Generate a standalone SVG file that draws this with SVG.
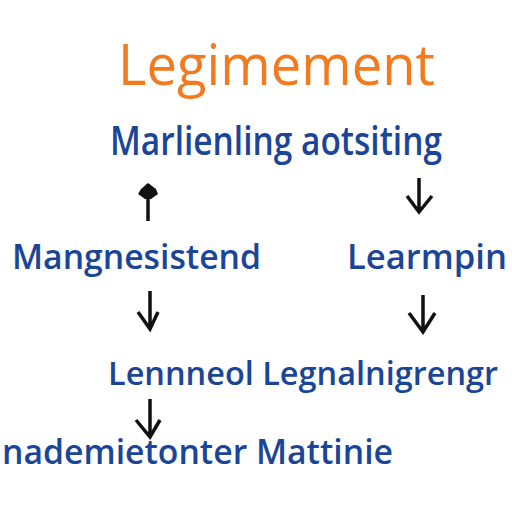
<svg xmlns="http://www.w3.org/2000/svg" width="512" height="512" viewBox="0 0 512 512">
<defs>
<style>
.t{font-family:"Open Sans","Noto Sans","Liberation Sans",sans-serif;fill:#1b4597;font-weight:600}
.title{font-family:"Open Sans","Noto Sans","Liberation Sans",sans-serif;fill:#f27a1f;font-weight:500}
.c{stroke:#111;stroke-width:3.5;fill:none;stroke-linecap:butt}
</style>
</defs>
<rect width="512" height="512" fill="#ffffff"/>
<g id="title"><text class="title" x="118" y="85" font-size="56" textLength="317" lengthAdjust="spacingAndGlyphs">Legimement</text></g>
<g id="node-top"><text class="t" x="110" y="155" font-size="39" textLength="332" lengthAdjust="spacingAndGlyphs">Marlienling aotsiting</text></g>
<g id="node-left"><text class="t" x="12" y="269" font-size="35" textLength="249" lengthAdjust="spacingAndGlyphs">Mangnesistend</text></g>
<g id="node-right"><text class="t" x="347" y="269" font-size="35" textLength="160" lengthAdjust="spacingAndGlyphs">Learmpin</text></g>
<g id="node-mid"><text class="t" x="108" y="385" font-size="33" textLength="390" lengthAdjust="spacingAndGlyphs">Lennneol Legnalnigrengr</text></g>
<g id="node-bottom"><text class="t" x="2" y="464" font-size="35" textLength="391" lengthAdjust="spacingAndGlyphs">nademietonter Mattinie</text></g>
<g id="connectors">
<path class="c" d="M148,221 V184"/>
<path d="M148,183 L156,189 L158,194 L151,199 L145,199 L138,194 L141,189 Z" fill="#111"/>
<path class="c" d="M419,178 V211 M407,196 L419,212 L432,196"/>
<path class="c" d="M150,291 V329 M138,312 L150,329 L158,312"/>
<path class="c" d="M423,295 V332 M409,313 L423,332 L435,313"/>
<path class="c" d="M150,399 V436 M136,420 L150,437 L160,420"/>
</g>
</svg>
